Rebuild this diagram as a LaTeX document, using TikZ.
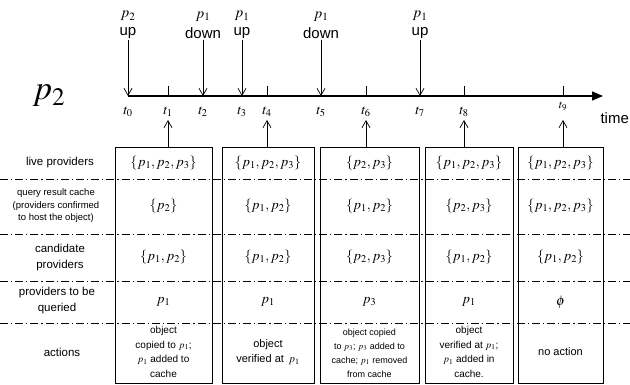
\documentclass[tikz,border=0pt]{standalone}
\usepackage{mathptmx}
\usepackage{fontspec}
\setmainfont{Liberation Sans}
\usetikzlibrary{positioning,arrows.meta}

\begin{document}
\begin{tikzpicture}[x=1pt,y=-1pt,
  colbox/.style={rectangle,draw,line width=0.8pt,minimum height=236pt,inner sep=0pt},
  rowlbl/.style={align=center,font=\fontsize{11.5}{16}\selectfont},
  cellm/.style={font=\fontsize{14}{15}\selectfont},
  cellt/.style={align=center,font=\fontsize{10}{14.5}\selectfont},
  evt/.style={font=\fontsize{15}{15}\selectfont,inner sep=1pt},
  evp/.style={font=\fontsize{15}{15}\selectfont,inner sep=1pt},
  tl/.style={font=\fontsize{14}{14}\selectfont,inner sep=1pt},
  sep/.style={line width=0.7pt,dash pattern=on 8pt off 3pt on 1.2pt off 3pt},
  arr/.style={-{Straight Barb[length=7pt,width=8pt]},line width=0.7pt}]
  \useasboundingbox (0,0) rectangle (630,385);
  % time axis
  \coordinate (t0) at (128,96); \coordinate (tend) at (603,96);
  \draw[line width=1.3pt,-{Triangle[length=11pt,width=9pt]}](t0)--(tend);
  \node[font=\fontsize{15}{15}\selectfont,anchor=west] (time) at (597,118) {time};
  \node[font=\fontsize{34}{34}\selectfont] (pname) at (49,96) {$p_2$};
  \coordinate (t1) at (168,96); \coordinate (t2) at (203,96);
  \coordinate (t3) at (242,96); \coordinate (t4) at (267,96);
  \coordinate (t5) at (321,96); \coordinate (t6) at (366,96);
  \coordinate (t7) at (420,96); \coordinate (t8) at (464,96);
  \coordinate (t9) at (563,96);
  \foreach \t in {t1,t4,t6,t8,t9}
    \draw[line width=1pt](\t)--++(0,-10);
  \foreach \t/\i in {t0/0,t1/1,t2/2,t3/3,t4/4,t5/5,t6/6,t7/7,t8/8}
    \node[tl] (l\t) at ([yshift=-16pt]\t) {$t_{\i}$};
  \node[tl,font=\fontsize{12}{12}\selectfont] (lt9) at ([yshift=-10pt]t9) {$t_9$};
  % events
  \node[evt] (e0) at (128,33) {up};   \node[evp,above=4pt of e0] {$p_2$};
  \node[evt] (e2) at (203,33) {down}; \node[evp,above=4pt of e2] {$p_1$};
  \node[evt] (e3) at (242,33) {up};   \node[evp,above=4pt of e3] {$p_1$};
  \node[evt] (e5) at (321,33) {down}; \node[evp,above=4pt of e5] {$p_1$};
  \node[evt] (e7) at (420,33) {up};   \node[evp,above=4pt of e7] {$p_1$};
  \draw[arr](e0)--(t0); \draw[arr](e2)--(t2); \draw[arr](e3)--(t3);
  \draw[arr](e5)--(t5); \draw[arr](e7)--(t7);
  % row separators
  \foreach \y in {179,234,281,323}
    \draw[sep](0,\y)--(630,\y);
  % columns
  \node[colbox,minimum width=97pt] (b1) at (163.5,265) {};
  \node[colbox,minimum width=92pt] (b2) at (268,265) {};
  \node[colbox,minimum width=99pt] (b3) at (369.5,265) {};
  \node[colbox,minimum width=88pt] (b4) at (469,265) {};
  \node[colbox,minimum width=85pt] (b5) at (560.5,265) {};
  \draw[arr](b1.north-|t1)--([yshift=-24pt]t1);
  \draw[arr](b2.north-|t4)--([yshift=-24pt]t4);
  \draw[arr](b3.north-|t6)--([yshift=-24pt]t6);
  \draw[arr](b4.north-|t8)--([yshift=-24pt]t8);
  \draw[arr](b5.north-|t9)--([yshift=-24pt]t9);
  % row labels
  \node[rowlbl] (rlive) at (60,163) {live providers};
  \node[rowlbl,font=\fontsize{9.5}{12.5}\selectfont] (rcache) at (56,206) {query result cache\\(providers confirmed\\to host the object)};
  \node[rowlbl] (rcand) at (60,258) {candidate\\providers};
  \node[rowlbl] (rquery) at (57,301) {providers to be\\queried};
  \node[rowlbl] (ract) at (62,352) {actions};
  % column 1
  \node[cellm] (live1) at (163.5,163) {$\{p_1,p_2,p_3\}$};
  \node[cellm] (cache1) at (163.5,206) {$\{p_2\}$};
  \node[cellm] (cand1) at (163.5,257) {$\{p_1,p_2\}$};
  \node[cellm] (query1) at (163.5,302) {$p_1$};
  \node[cellt] (act1) at (163.5,352) {object\\copied to $p_1$;\\$p_1$ added to\\cache};
  % column 2
  \node[cellm] (live2) at (268,163) {$\{p_1,p_2,p_3\}$};
  \node[cellm] (cache2) at (268,206) {$\{p_1,p_2\}$};
  \node[cellm] (cand2) at (268,257) {$\{p_1,p_2\}$};
  \node[cellm] (query2) at (268,302) {$p_1$};
  \node[cellt,font=\fontsize{11}{15}\selectfont] (act2) at (268,352) {object\\verified at \,$p_1$};
  % column 3
  \node[cellm] (live3) at (369.5,163) {$\{p_2,p_3\}$};
  \node[cellm] (cache3) at (369.5,206) {$\{p_1,p_2\}$};
  \node[cellm] (cand3) at (369.5,257) {$\{p_2,p_3\}$};
  \node[cellm] (query3) at (369.5,302) {$p_3$};
  \node[cellt,font=\fontsize{9}{14}\selectfont] (act3) at (369.5,353) {object copied\\to $p_3$; $p_3$ added to\\cache; $p_1$ removed\\from cache};
  % column 4
  \node[cellm] (live4) at (469,163) {$\{p_1,p_2,p_3\}$};
  \node[cellm] (cache4) at (469,206) {$\{p_2,p_3\}$};
  \node[cellm] (cand4) at (469,257) {$\{p_1,p_2\}$};
  \node[cellm] (query4) at (469,302) {$p_1$};
  \node[cellt] (act4) at (469,352) {object\\verified at $p_1$;\\$p_1$ added in\\cache.};
  % column 5
  \node[cellm] (live5) at (560.5,163) {$\{p_1,p_2,p_3\}$};
  \node[cellm] (cache5) at (560.5,206) {$\{p_1,p_2,p_3\}$};
  \node[cellm] (cand5) at (560.5,257) {$\{p_1,p_2\}$};
  \node[cellm] (query5) at (560.5,302) {$\phi$};
  \node[cellt,font=\fontsize{11}{15}\selectfont] (act5) at (560.5,352) {no action};
\end{tikzpicture}
\end{document}
